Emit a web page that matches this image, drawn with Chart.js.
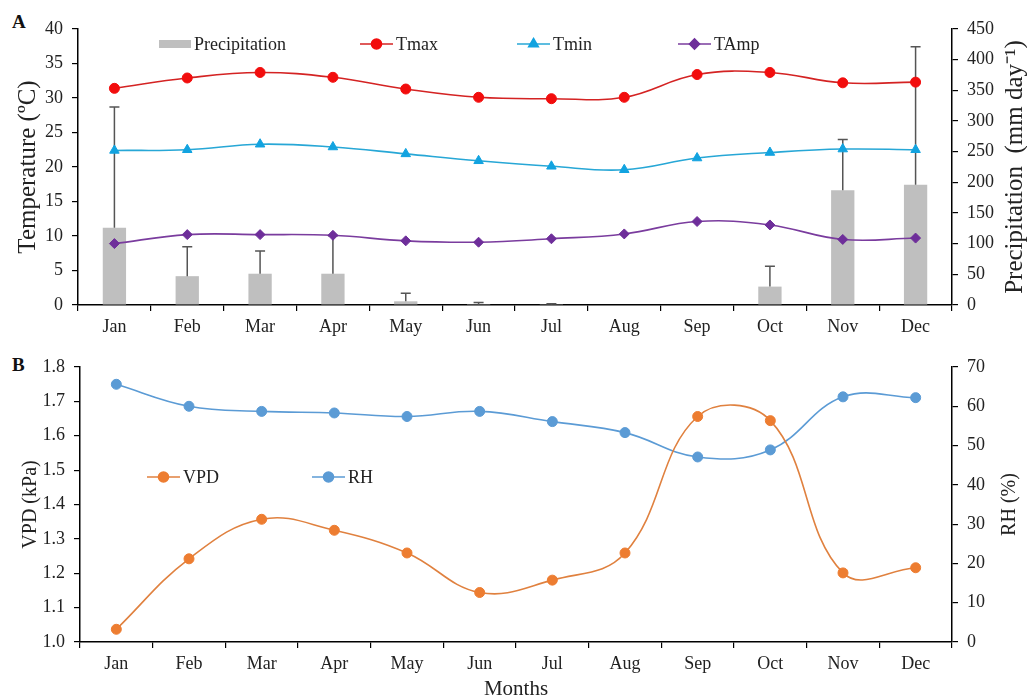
<!DOCTYPE html>
<html>
<head>
<meta charset="utf-8">
<script src="https://cdn.jsdelivr.net/npm/chart.js@4.4.1/dist/chart.umd.min.js"></script>
<style>
  body { margin: 0; background: #fff; }
  .panel { position: absolute; left: 0; }
  .tag { position: absolute; left: 12px; font: bold 19px 'Liberation Serif', 'Times New Roman', serif; color: #111; }
</style>
</head>
<body>
<div class="tag" style="top:11px">A</div>
<div class="tag" style="top:354px">B</div>
<div class="panel" style="top:0"><canvas id="climateChart" width="1027" height="345"></canvas></div>
<div class="panel" style="top:345px"><canvas id="vpdChart" width="1027" height="355"></canvas></div>
<script>
// --- data ---
const months = ['Jan', 'Feb', 'Mar', 'Apr', 'May', 'Jun', 'Jul', 'Aug', 'Sep', 'Oct', 'Nov', 'Dec'];
const precip = [126, 47, 51, 51, 6, 0.4, 0.5, 0, 0, 30, 187, 196];
const precipSd = [197, 48, 37, 62, 13, 3.5, 1.5, 0, 0, 33, 83, 225];
const tmax = [31.4, 32.9, 33.7, 33.0, 31.3, 30.1, 29.9, 30.1, 33.4, 33.7, 32.2, 32.3];
const tmin = [22.4, 22.5, 23.3, 22.9, 21.9, 20.9, 20.1, 19.6, 21.3, 22.1, 22.6, 22.5];
const tamp = [8.9, 10.2, 10.2, 10.1, 9.3, 9.1, 9.6, 10.3, 12.1, 11.6, 9.5, 9.7];
const vpd = [1.037, 1.242, 1.357, 1.325, 1.259, 1.144, 1.180, 1.259, 1.656, 1.644, 1.201, 1.216];
const rh = [65.6, 60.0, 58.7, 58.3, 57.4, 58.7, 56.1, 53.3, 47.1, 48.9, 62.4, 62.2];

const FONT = "'Liberation Serif', 'Times New Roman', serif";
Chart.defaults.font.family = FONT;
Chart.defaults.color = '#222';
Chart.defaults.animation = false;

// error bars (upper whisker only) on the precipitation bars
const errorBars = {
    id: 'errorBars',
    afterDatasetDraw(chart, args) {
        const ds = chart.data.datasets[args.index];
        if (!ds.sd) return;
        const meta = args.meta;
        const scale = chart.scales[meta.yAxisID];
        const ctx = chart.ctx;
        ctx.save();
        ctx.strokeStyle = '#555';
        ctx.lineWidth = 1.5;
        meta.data.forEach((bar, i) => {
            const sd = ds.sd[i];
            if (!sd) return;
            const top = scale.getPixelForValue(ds.data[i] + sd);
            ctx.beginPath();
            ctx.moveTo(bar.x, bar.y);
            ctx.lineTo(bar.x, top);
            ctx.moveTo(bar.x - 5, top);
            ctx.lineTo(bar.x + 5, top);
            ctx.stroke();
        });
        ctx.restore();
    }
};

// legend drawn inside the plot, Excel style (line + marker)
const inlineLegend = {
    id: 'inlineLegend',
    afterDraw(chart, args, opts) {
        const ctx = chart.ctx;
        const y = opts.y;
        ctx.save();
        ctx.font = `18px ${FONT}`;
        ctx.textBaseline = 'middle';
        opts.items.forEach(item => {
            const ds = chart.data.datasets[item.index];
            let w;
            if (ds.type === 'bar') {
                w = 32;
                ctx.fillStyle = ds.backgroundColor;
                ctx.fillRect(item.x, y - 4, w, 8);
            } else {
                w = 33;
                ctx.strokeStyle = ds.borderColor;
                ctx.lineWidth = ds.borderWidth;
                ctx.beginPath();
                ctx.moveTo(item.x, y);
                ctx.lineTo(item.x + w, y);
                ctx.stroke();
                ctx.fillStyle = ds.pointBackgroundColor;
                ctx.strokeStyle = ds.pointBorderColor;
                Chart.helpers.drawPoint(ctx, {
                    pointStyle: ds.pointStyle, radius: ds.pointRadius, rotation: 0, borderWidth: 1
                }, item.x + w / 2, y);
            }
            ctx.fillStyle = '#222';
            ctx.fillText(ds.label, item.x + w + 3, y + 1);
        });
        ctx.restore();
    }
};

// right-hand axis title, reading bottom to top like the left one
const rightTitle = {
    id: 'rightTitle',
    afterDraw(chart, args, opts) {
        const scale = chart.scales[opts.axis];
        const ctx = chart.ctx;
        ctx.save();
        ctx.translate(opts.x, (scale.top + scale.bottom) / 2);
        ctx.rotate(-Math.PI / 2);
        ctx.font = `${opts.size}px ${FONT}`;
        ctx.textAlign = 'center';
        ctx.textBaseline = 'middle';
        ctx.fillStyle = '#222';
        ctx.fillText(opts.text, 0, 0);
        ctx.restore();
    }
};

function yAxis(position, min, max, step, title, titleSize, width, titlePad, decimals) {
    return {
        position: position,
        min: min,
        max: max,
        ticks: {
            stepSize: step,
            padding: 9,
            font: { size: 18 },
            color: '#222',
            callback: v => decimals ? Number(v).toFixed(decimals) : v
        },
        grid: { drawOnChartArea: false, drawTicks: true, tickLength: 6, color: '#000', lineWidth: 1.2 },
        border: { display: true, color: '#000', width: 1.5 },
        title: { display: !!title, text: title, font: { size: titleSize }, color: '#222', padding: { top: titlePad, bottom: 0 } },
        afterFit: s => { s.width = width; }
    };
}

function xAxis(height, title) {
    return {
        type: 'category',
        offset: true,
        ticks: { padding: 5, font: { size: 18 }, color: '#222', maxRotation: 0, autoSkip: false },
        grid: { offset: true, drawOnChartArea: false, drawTicks: true, tickLength: 6, color: '#000', lineWidth: 1.2 },
        border: { display: true, color: '#000', width: 1.5 },
        title: { display: !!title, text: title, font: { size: 21, lineHeight: 1 }, color: '#222', padding: 0 },
        afterFit: s => { s.height = height; }
    };
}

function lineSet(label, data, color, pointColor, style, radius, axis) {
    return {
        type: 'line',
        label: label,
        data: data,
        yAxisID: axis,
        borderColor: color,
        borderWidth: 1.6,
        pointStyle: style,
        pointRadius: radius,
        pointBackgroundColor: pointColor,
        pointBorderColor: pointColor,
        pointBorderWidth: 1,
        tension: 0.4,
        fill: false,
        order: 0
    };
}

// Panel A: temperature + precipitation
new Chart(document.getElementById('climateChart'), {
    data: {
        labels: months,
        datasets: [
            {
                type: 'bar',
                label: 'Precipitation',
                data: precip,
                sd: precipSd,
                yAxisID: 'yP',
                backgroundColor: '#BFBFBF',
                categoryPercentage: 1,
                barPercentage: 0.32,
                order: 1
            },
            lineSet('Tmax', tmax, '#D42323', '#F20D0D', 'circle', 5, 'yT'),
            lineSet('Tmin', tmin, '#27A7D6', '#12A3E0', 'triangle', 5.5, 'yT'),
            lineSet('TAmp', tamp, '#7A3C9E', '#6E2E9A', 'rectRot', 5, 'yT')
        ]
    },
    options: {
        responsive: false,
        layout: { padding: { top: 29, left: 0, right: 0, bottom: 0 } },
        scales: {
            x: xAxis(40, ''),
            yT: yAxis('left', 0, 40, 5, 'Temperature (ºC)', 25, 78, 13, 0),
            yP: yAxis('right', 0, 450, 50, '', 0, 75, 0, 0)
        },
        plugins: {
            legend: { display: false },
            tooltip: { enabled: false },
            rightTitle: { axis: 'yP', text: 'Precipitation  (mm day⁻¹)', size: 25, x: 1015 },
            inlineLegend: {
                y: 44,
                items: [
                    { index: 0, x: 159 },
                    { index: 1, x: 360 },
                    { index: 2, x: 517 },
                    { index: 3, x: 678 }
                ]
            }
        }
    },
    plugins: [errorBars, inlineLegend, rightTitle]
});

// Panel B: VPD + RH
new Chart(document.getElementById('vpdChart'), {
    data: {
        labels: months,
        datasets: [
            lineSet('VPD', vpd, '#E0813F', '#ED7D31', 'circle', 5, 'yV'),
            lineSet('RH', rh, '#5B9BD5', '#5B9BD5', 'circle', 5, 'yR')
        ]
    },
    options: {
        responsive: false,
        layout: { padding: { top: 22, left: 0, right: 0, bottom: 0 } },
        scales: {
            x: xAxis(58, 'Months'),
            yV: yAxis('left', 1.0, 1.8, 0.1, 'VPD (kPa)', 20, 80, 19, 1),
            yR: yAxis('right', 0, 70, 10, '', 0, 75, 0, 0)
        },
        plugins: {
            legend: { display: false },
            tooltip: { enabled: false },
            rightTitle: { axis: 'yR', text: 'RH (%)', size: 20, x: 1010 },
            inlineLegend: {
                y: 132,
                items: [
                    { index: 0, x: 147 },
                    { index: 1, x: 312 }
                ]
            }
        }
    },
    plugins: [inlineLegend, rightTitle]
});
</script>
</body>
</html>
